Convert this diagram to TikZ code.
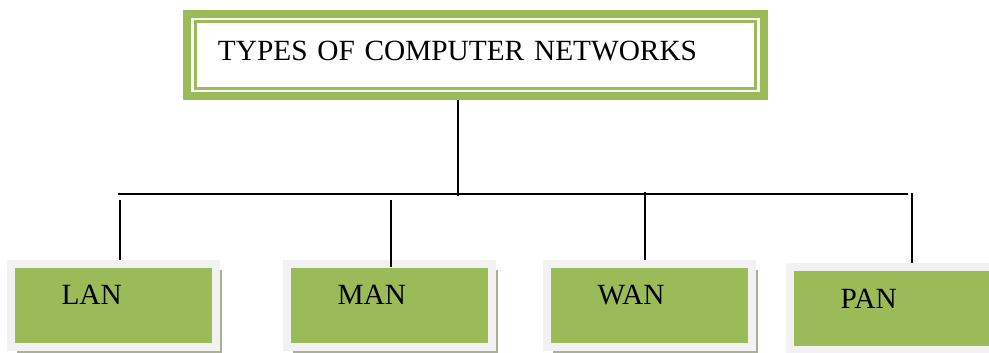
\documentclass[tikz,border=0pt]{standalone}
\usepackage{fontspec}
\setmainfont{Liberation Serif}
\usepackage{xcolor}
\definecolor{netgreen}{RGB}{155,187,89}
\definecolor{boxgray}{RGB}{242,242,242}
\definecolor{shadegray}{RGB}{168,178,150}
\usetikzlibrary{calc}
\usetikzlibrary{positioning}
\usetikzlibrary{fit}
\usetikzlibrary{shadows}
\usetikzlibrary{backgrounds}

\begin{document}
\begin{tikzpicture}[x=0.75pt,y=-0.75pt,
      font=\fontsize{22}{26}\selectfont,
      title style/.style={rectangle,draw=netgreen,line width=1.9pt,
        text width=386pt,inner xsep=17pt,minimum height=50.25pt,
        align=left,text depth=6pt},
      frame style/.style={rectangle,draw=netgreen,line width=6pt,
        inner xsep=5.4pt,inner ysep=4.7pt},
      net style/.style={rectangle,fill=netgreen,draw=boxgray,line width=6pt,
        text width=78pt,inner xsep=37.9pt,minimum height=62.25pt,
        align=left,text depth=15.75pt,
        drop shadow={shadow xshift=4.5pt,shadow yshift=-4.5pt,
          fill=shadegray,opacity=1}},
      link style/.style={line width=1.2pt}
      ]
      \useasboundingbox (0,0) rectangle (989,353);

      \node[title style] (title) at (475.25,55) {TYPES OF COMPUTER NETWORKS};
      \node[frame style,fit=(title)] (titleframe) {};

      \node[net style] (lan) at (113.5,305.5) {LAN};
      \node[net style, right=47.25pt of lan] (man) {MAN};
      \node[net style, right=35.25pt of man] (wan) {WAN};
      \node[net style, right=22.5pt of wan, yshift=-2.6pt] (pan) {PAN};

      \coordinate (hub) at (458,196);
      \coordinate (barleft) at (118,194);
      \coordinate (barright) at (908,194);
      \coordinate (lantop) at (120,200);
      \coordinate (mantop) at (391,200);
      \coordinate (wantop) at (645,192);
      \coordinate (pantop) at (912,193);

      \draw[link style] (titleframe.south -| hub) -- (hub);
      \draw[link style] (barleft) -- (barright);
      \draw[link style] (lantop) -- (lantop |- lan.north);
      \draw[link style] (mantop) -- ($(mantop |- man.north)+(0,7)$);
      \draw[link style] (wantop) -- (wantop |- wan.north);
      \draw[link style] (pantop) -- (pantop |- pan.north);
    \end{tikzpicture}
\end{document}
